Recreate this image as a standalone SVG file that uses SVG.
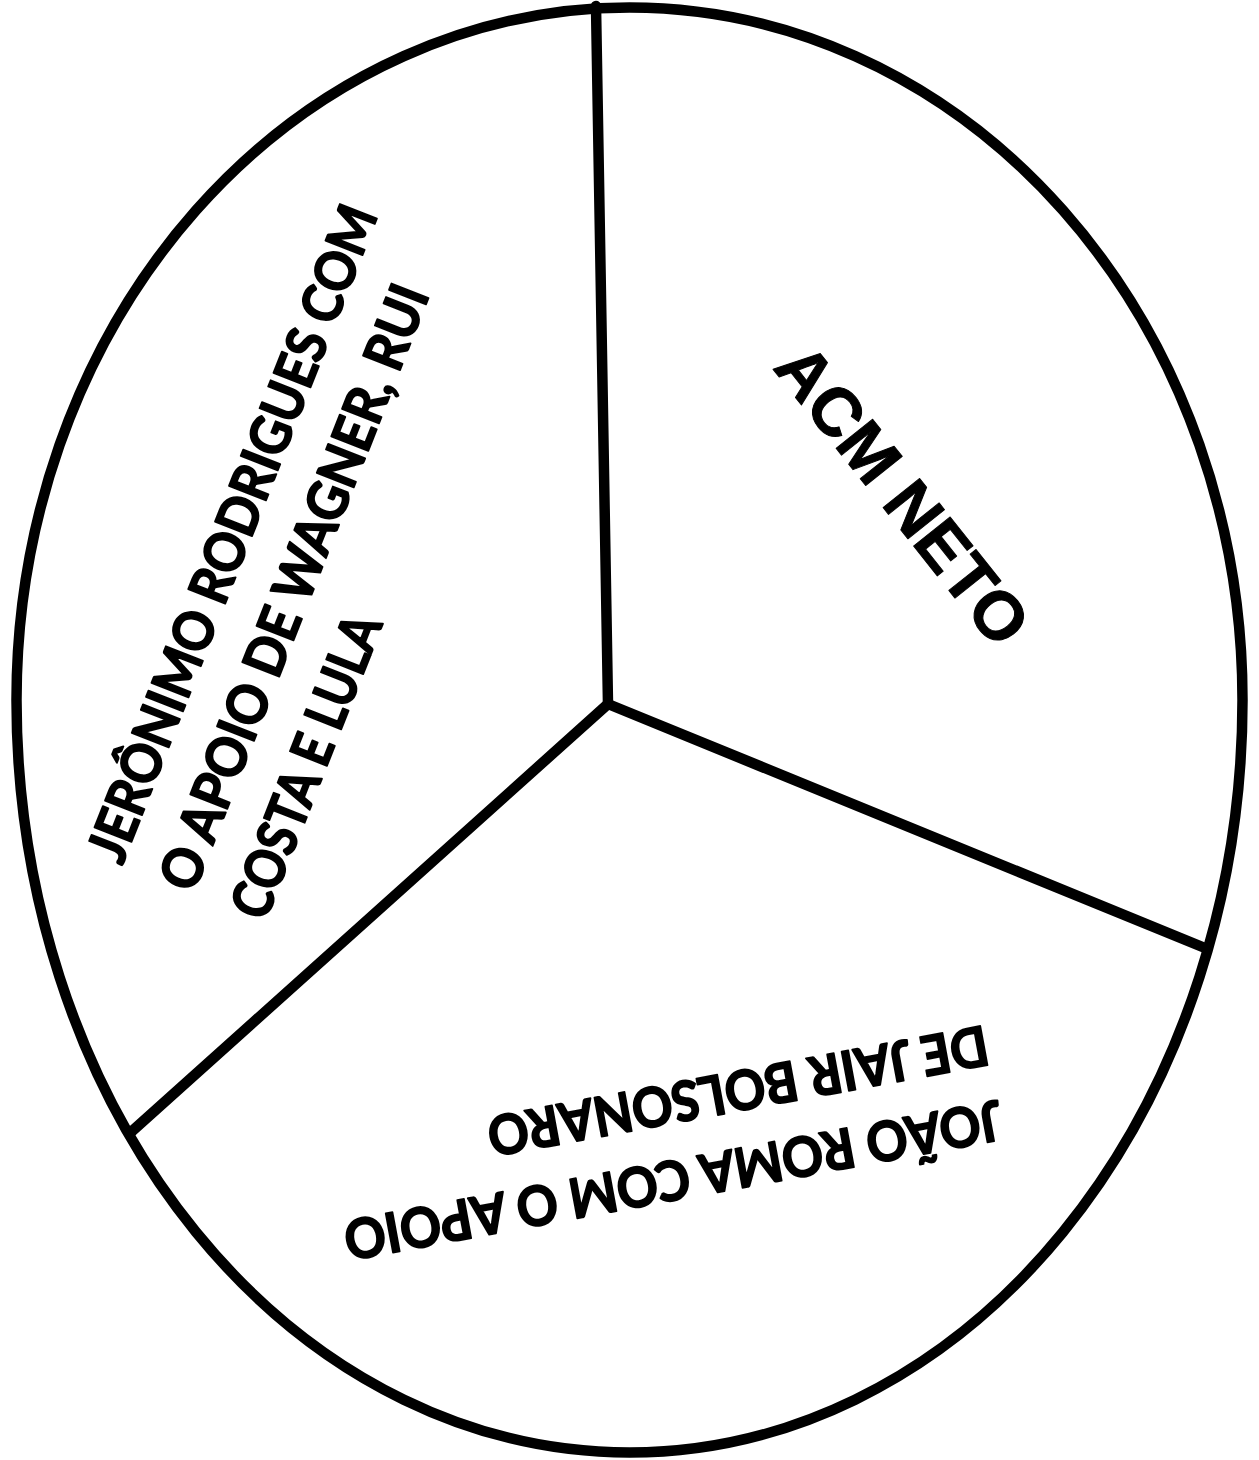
<svg xmlns="http://www.w3.org/2000/svg" width="1259" height="1460" viewBox="0 0 1259 1460">
<style>
.ln{fill:none;stroke:#000;stroke-width:10.5;stroke-linecap:round;stroke-linejoin:round}
.lbl{font-family:"Lato","Liberation Sans",sans-serif;font-weight:700;font-size:55px;fill:#000;stroke:#000;stroke-width:1.8;stroke-linejoin:round}
.big{font-family:"Liberation Sans",Arial,sans-serif;font-weight:700;font-size:68px;fill:#000;stroke:#000;stroke-width:1;stroke-linejoin:round}
</style>
<rect width="1259" height="1460" fill="#fff"/>
<g id="outline">
<path class="ln" d="M16.5,700 A613,692.5 0 0 1 1242.5,700 A613,752.5 0 0 1 16.5,700 Z"/>
</g>
<g id="connectors">
<line class="ln" x1="608" y1="704" x2="596" y2="6"/>
<line class="ln" x1="608" y1="704" x2="1205" y2="948"/>
<line class="ln" x1="608" y1="704" x2="130" y2="1133"/>
</g>
<g id="acm-neto">
<text class="big" transform="translate(772,368) rotate(51.5)">ACM NETO</text>
</g>
<g id="jeronimo">
<g transform="translate(122,866) rotate(-68.5)">
<text class="lbl" x="0" y="0" textLength="700" lengthAdjust="spacingAndGlyphs">JERÔNIMO RODRIGUES COM</text>
<text class="lbl" x="0" y="77" textLength="645" lengthAdjust="spacingAndGlyphs">O APOIO DE WAGNER, RUI</text>
<text class="lbl" x="0" y="154" textLength="321" lengthAdjust="spacingAndGlyphs">COSTA E LULA</text>
</g>
</g>
<g id="joao-roma">
<g transform="translate(998,1100) rotate(169.5)">
<text class="lbl" x="0" y="0" textLength="668" lengthAdjust="spacingAndGlyphs">JOÃO ROMA COM O APOIO</text>
<text class="lbl" x="0" y="76" textLength="508" lengthAdjust="spacingAndGlyphs">DE JAIR BOLSONARO</text>
</g>
</g>
</svg>
